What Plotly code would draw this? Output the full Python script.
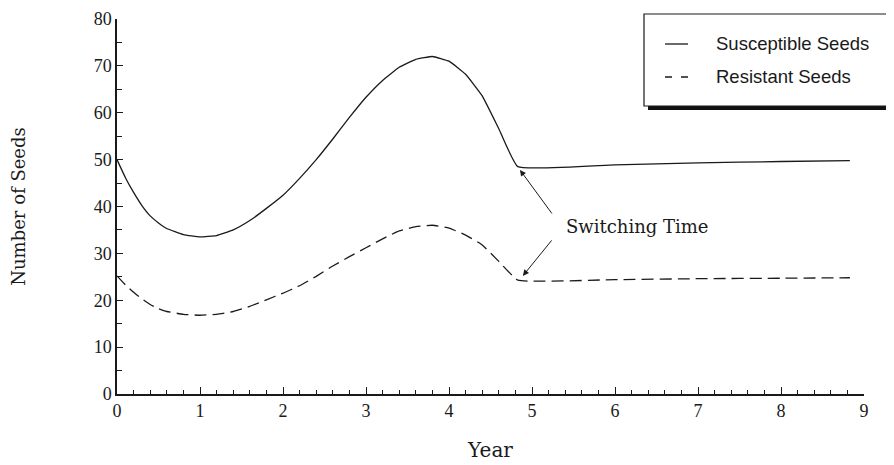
import plotly.graph_objects as go

years = [0, 0.1, 0.2, 0.3, 0.4, 0.5, 0.6, 0.8, 1.0, 1.2, 1.4, 1.6, 1.8, 2.0, 2.2, 2.4,
         2.6, 2.8, 3.0, 3.2, 3.4, 3.6, 3.8, 4.0, 4.2, 4.4, 4.6, 4.83, 6, 7, 8, 8.83]
susceptible = [50.0, 46.2, 43.0, 40.2, 38.0, 36.5, 35.3, 34.0, 33.5, 33.8, 35.0, 37.0,
               39.6, 42.4, 46.0, 50.0, 54.4, 59.0, 63.3, 66.9, 69.7, 71.4, 72.0, 71.0,
               68.2, 63.6, 56.6, 48.5, 48.9, 49.3, 49.6, 49.8]
resistant = [25.2, 23.3, 21.7, 20.3, 19.1, 18.2, 17.6, 17.0, 16.8, 17.0, 17.6, 18.7,
             20.1, 21.5, 23.1, 25.1, 27.3, 29.3, 31.2, 33.1, 34.8, 35.7, 36.0, 35.4,
             33.9, 31.8, 28.3, 24.3, 24.4, 24.6, 24.7, 24.8]
x_ticks = [0, 1, 2, 3, 4, 5, 6, 7, 8, 9]
y_ticks = [0, 10, 20, 30, 40, 50, 60, 70, 80]
series_names = ["Susceptible Seeds", "Resistant Seeds"]
switch_label = "Switching Time"

# page body has an 8px margin; size the figure so it fits the 894x465 window
OFF = 8
W, H = 894 - OFF, 465 - OFF
L, T = 117 - OFF, 19 - OFF
PW, PH = 864 - 117, 394 - 19
R, B = W - L - PW, H - T - PH


def px(xw):
    return (xw - OFF - L) / PW


def py(yw):
    return (T + PH + OFF - yw) / PH


ink = "#1a1a1a"
serif = "DejaVu Serif"
fig = go.Figure()
fig.add_trace(go.Scatter(x=years, y=susceptible, name=series_names[0], mode="lines",
                         line=dict(color=ink, width=1.3, shape="spline", smoothing=0.35)))
fig.add_trace(go.Scatter(x=years, y=resistant, name=series_names[1], mode="lines",
                         line=dict(color=ink, width=1.3, dash="12px,6px", shape="spline", smoothing=0.35)))

shapes = []
# legend shadow + box
shapes.append(dict(type="rect", xref="paper", yref="paper", x0=px(648), x1=px(900), y0=py(110), y1=py(104),
                   fillcolor="#111", line=dict(width=0)))
shapes.append(dict(type="rect", xref="paper", yref="paper", x0=px(644), x1=px(900), y0=py(106), y1=py(14),
                   fillcolor="white", line=dict(color=ink, width=1.2)))
shapes.append(dict(type="line", xref="paper", yref="paper", x0=px(665), x1=px(688), y0=py(44), y1=py(44),
                   line=dict(color=ink, width=1.3)))
shapes.append(dict(type="line", xref="paper", yref="paper", x0=px(665), x1=px(688), y0=py(77), y1=py(77),
                   line=dict(color=ink, width=1.3, dash="7px,9px")))

annotations = [
    dict(xref="paper", yref="paper", x=px(714), y=py(44), text=series_names[0], showarrow=False,
         xanchor="left", yanchor="middle", font=dict(family="Liberation Sans", size=18.5, color=ink)),
    dict(xref="paper", yref="paper", x=px(714), y=py(77), text=series_names[1], showarrow=False,
         xanchor="left", yanchor="middle", font=dict(family="Liberation Sans", size=18.5, color=ink)),
    dict(x=5.39, y=35.8, xref="x", yref="y", text=switch_label, showarrow=False, xanchor="left",
         yanchor="middle", font=dict(family=serif, size=18, color=ink)),
    dict(x=4.855, y=47.8, xref="x", yref="y", text="", showarrow=True, ax=33, ay=45,
         arrowhead=2, arrowsize=1.2, arrowwidth=1, arrowcolor=ink),
    dict(x=4.89, y=25.2, xref="x", yref="y", text="", showarrow=True, ax=30, ay=-37,
         arrowhead=2, arrowsize=1.2, arrowwidth=1, arrowcolor=ink),
]

fig.update_layout(
    width=W, height=H, margin=dict(l=L, r=R, t=T, b=B, autoexpand=False),
    paper_bgcolor="white", plot_bgcolor="white", showlegend=False,
    shapes=shapes, annotations=annotations,
    xaxis=dict(range=[0, 9], tickvals=x_ticks, ticks="inside", ticklen=7, tickcolor=ink, tickwidth=1.2,
               showline=True, linecolor=ink, linewidth=1.5, showgrid=False, zeroline=False,
               ticklabeloverflow="allow",
               minor=dict(dtick=0.2, tick0=0, ticks="inside", ticklen=4, tickcolor=ink, showgrid=False),
               tickfont=dict(family="Liberation Serif", size=18, color=ink),
               title=dict(text="Year", font=dict(family=serif, size=20, color=ink), standoff=23)),
    yaxis=dict(range=[0, 80], tickvals=y_ticks, ticks="inside", ticklen=6, tickcolor=ink, tickwidth=1.2,
               showline=True, linecolor=ink, linewidth=1.5, showgrid=False, zeroline=False,
               ticklabeloverflow="allow",
               minor=dict(dtick=5, tick0=0, ticks="inside", ticklen=5, tickcolor=ink, showgrid=False),
               tickfont=dict(family="Liberation Serif", size=18, color=ink),
               title=dict(text="Number of Seeds", font=dict(family=serif, size=18, color=ink), standoff=65)),
)

fig.write_html("out.html")
